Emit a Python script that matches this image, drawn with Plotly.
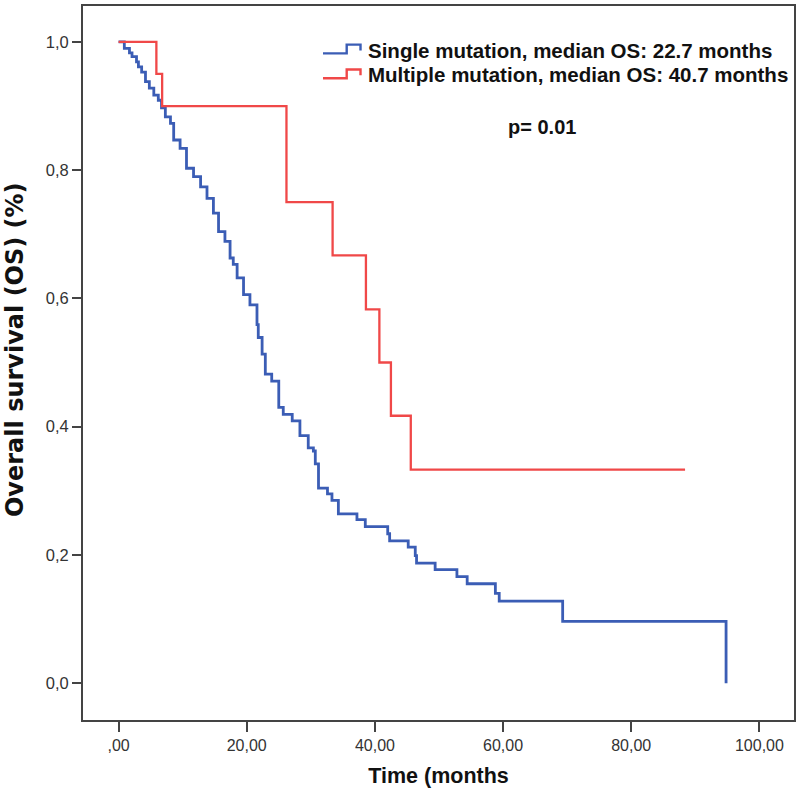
import plotly.graph_objects as go

# ---- data ----
single_t = [0, 0.9, 1.7, 2.1, 2.8, 3.1, 3.6, 4.2, 4.8, 5.5, 6.2, 6.7, 7.3, 8.1, 8.6, 9.6,
            10.6, 11.7, 12.8, 13.8, 14.8, 15.6, 16.6, 17.4, 17.9, 18.5, 19.5, 20.5, 21.6,
            21.8, 22.4, 22.9, 23.9, 25.0, 25.7, 27.1, 28.3, 29.6, 30.4, 30.7, 31.2, 32.6,
            33.3, 34.3, 37.2, 38.5, 42.0, 42.3, 45.2, 46.3, 46.5, 49.4, 52.8, 54.4, 58.8,
            59.4, 69.3, 94.8]
single_s = [1.0, 0.99, 0.983, 0.977, 0.969, 0.961, 0.953, 0.938, 0.928, 0.917, 0.909, 0.897,
            0.883, 0.873, 0.847, 0.834, 0.803, 0.790, 0.774, 0.756, 0.733, 0.704, 0.689,
            0.663, 0.653, 0.632, 0.606, 0.590, 0.559, 0.539, 0.513, 0.482, 0.471, 0.430,
            0.419, 0.409, 0.386, 0.367, 0.362, 0.342, 0.304, 0.295, 0.285, 0.264, 0.255,
            0.244, 0.233, 0.222, 0.212, 0.199, 0.187, 0.177, 0.166, 0.155, 0.140, 0.128,
            0.0964, 0.0]

multi_t = [0, 5.9, 6.8, 26.2, 33.4, 38.6, 40.7, 42.5, 45.6, 88.4]
multi_s = [1.0, 0.95, 0.90, 0.75, 0.667, 0.583, 0.50, 0.417, 0.333, 0.333]

legend_labels = ["Single mutation, median OS: 22.7 months",
                 "Multiple mutation, median OS: 40.7 months"]
p_text = "p= 0.01"
x_title = "Time (months"
y_title = "Overall survival (OS) (%)"

x_tickvals = [0, 20, 40, 60, 80, 100]
x_ticktext = [",00", "20,00", "40,00", "60,00", "80,00", "100,00"]
y_tickvals = [0, 0.2, 0.4, 0.6, 0.8, 1.0]
y_ticktext = ["0,0", "0,2", "0,4", "0,6", "0,8", "1,0"]

BLUE = "#3b5db5"
RED = "#f04848"
FONT = "Arial, Liberation Sans, sans-serif"
TFONT = "DejaVu Sans, Verdana, sans-serif"

fig = go.Figure()
fig.add_trace(go.Scatter(x=single_t, y=single_s, mode="lines", line_shape="hv",
                         line=dict(color=BLUE, width=2.8), name=legend_labels[0],
                         showlegend=False))
fig.add_trace(go.Scatter(x=multi_t, y=multi_s, mode="lines", line_shape="hv",
                         line=dict(color=RED, width=2.3), name=legend_labels[1],
                         showlegend=False))

L, R, T, B = 83, 6, 4, 83
W, H = 800, 803
pw, ph = W - L - R, H - T - B


def px2paper(px, py):
    return (px - L) / pw, (H - B - py) / ph


# custom step-shaped legend icons
def icon(y_low, y_high, y_end, color):
    pts = [(323, y_low), (346.7, y_low), (346.7, y_high), (360.5, y_high), (360.5, y_end)]
    pp = [px2paper(a, b) for a, b in pts]
    path = "M " + " L ".join(f"{a:.5f},{b:.5f}" for a, b in pp)
    fig.add_shape(type="path", path=path, xref="paper", yref="paper",
                  line=dict(color=color, width=2.4))


icon(51.5, 42.7, 48.5, BLUE)
icon(76.5, 67.7, 73.5, RED)

for i, (lab, py) in enumerate(zip(legend_labels, [48.5, 73.0])):
    xx, yy = px2paper(366, py)
    fig.add_annotation(x=xx, y=yy, xref="paper", yref="paper", text=f"<b>{lab}</b>",
                       showarrow=False, xanchor="left", yanchor="middle",
                       font=dict(family=FONT, size=20.5, color="#111111"))

xx, yy = px2paper(542, 125)
fig.add_annotation(x=xx, y=yy, xref="paper", yref="paper", text=f"<b>{p_text}</b>",
                   showarrow=False, xanchor="center", yanchor="middle",
                   font=dict(family=FONT, size=20, color="#111111"))

# y-axis title (placed as rotated annotation to match the reference position)
xx, yy = px2paper(15, 349)
fig.add_annotation(x=xx, y=yy, xref="paper", yref="paper", text=f"<b>{y_title}</b>",
                   textangle=-90, showarrow=False, xanchor="center", yanchor="middle",
                   font=dict(family=TFONT, size=24, color="#111111"))

fig.update_layout(
    width=W, height=H,
    margin=dict(l=L, r=R, t=T, b=B),
    paper_bgcolor="white", plot_bgcolor="white",
    font=dict(family=FONT, color="#333333"),
    xaxis=dict(range=[-5.55, 105.4], tickvals=x_tickvals, ticktext=x_ticktext,
               ticks="outside", ticklen=10, tickwidth=2, tickcolor="#444444",
               showline=True, linecolor="#444444", linewidth=2, mirror=True,
               showgrid=False, zeroline=False,
               tickfont=dict(family=FONT, size=16, color="#333333"),
               title=dict(text=f"<b>{x_title}</b>", standoff=15,
                          font=dict(family=FONT, size=21.5, color="#111111"))),
    yaxis=dict(range=[-0.0575, 1.056], tickvals=y_tickvals, ticktext=y_ticktext,
               ticks="outside", ticklen=9, tickwidth=2, tickcolor="#444444",
               showline=True, linecolor="#444444", linewidth=2, mirror=True,
               showgrid=False, zeroline=False,
               tickfont=dict(family=FONT, size=16.5, color="#333333")),
)

fig.write_html("out.html", post_script="document.body.style.margin='0';",
               config={"displayModeBar": False})
